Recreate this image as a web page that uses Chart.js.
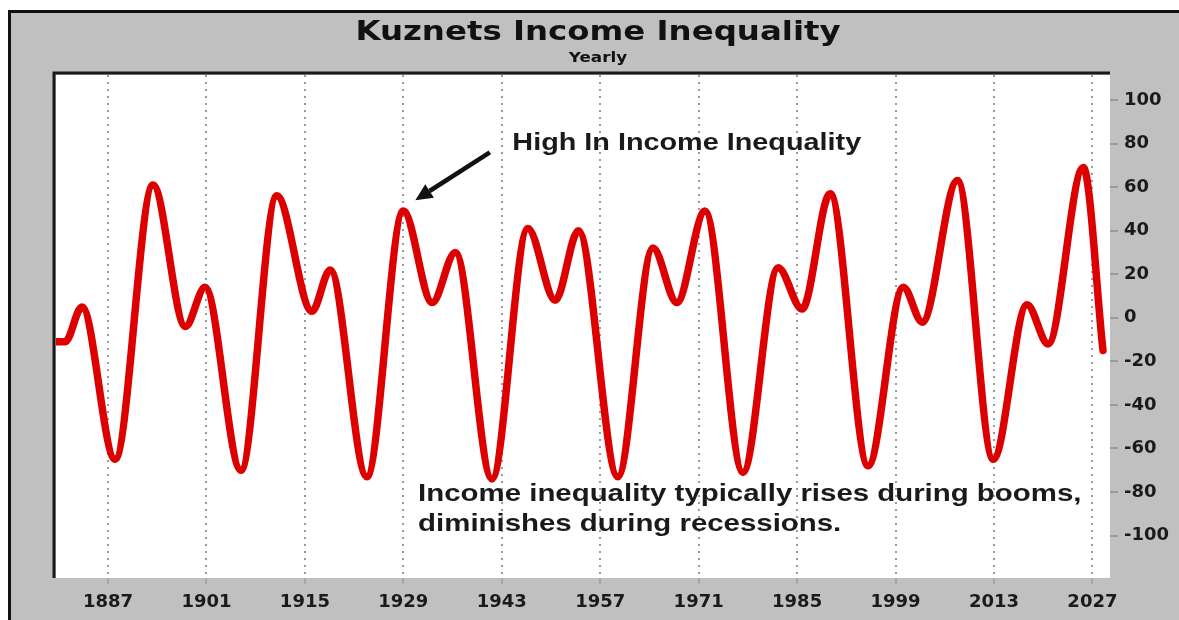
<!DOCTYPE html>
<html>
<head>
<meta charset="utf-8">
<script src="https://cdn.jsdelivr.net/npm/chart.js@4.4.1/dist/chart.umd.min.js"></script>
<style>
html,body{margin:0;padding:0;background:#fff;}
#wrap{width:1179px;height:620px;position:relative;}
</style>
</head>
<body>
<div id="wrap"><canvas id="c" width="1179" height="620"></canvas></div>
<script>
// ---- data ----
const years  = [1879.6, 1880.9, 1883.3, 1888.0, 1893.4, 1898.0, 1900.8, 1905.9, 1911.0, 1916.0,
                1918.6, 1923.8, 1929.0, 1933.1, 1936.4, 1941.6, 1946.7, 1950.6, 1953.9, 1959.5,
                1964.5, 1967.9, 1971.9, 1977.3, 1982.3, 1985.7, 1989.7, 1995.1, 2000.1, 2002.8,
                2007.8, 2012.9, 2017.7, 2020.7, 2025.7, 2028.5];
const values = [-11, -11, 5, -65, 61, -4, 14, -70, 56, 3,
                22, -73, 49, 7, 30, -74, 41, 8, 40, -73,
                32, 7, 49, -71, 23, 4, 57, -68, 14, -2,
                63, -65, 6, -12, 69, -15];
const xTickYears  = [1887, 1901, 1915, 1929, 1943, 1957, 1971, 1985, 1999, 2013, 2027];
const yTickValues = [-100, -80, -60, -40, -20, 0, 20, 40, 60, 80, 100];
const titleText    = 'Kuznets Income Inequality';
const subtitleText = 'Yearly';
const noteHigh     = 'High In Income Inequality';
const noteLines    = ['Income inequality typically rises during booms,', 'diminishes during recessions.'];

const points = years.map((y, i) => ({x: y, y: values[i]}));
const STRETCH = 1.2;

function stretchedText(ctx, text, x, y, font, align) {
  ctx.save();
  ctx.font = font;
  ctx.textBaseline = 'middle';
  ctx.textAlign = 'left';
  const w = ctx.measureText(text).width * STRETCH;
  let x0 = x;
  if (align === 'center') x0 = x - w / 2;
  ctx.translate(x0, y);
  ctx.scale(STRETCH, 1);
  ctx.fillText(text, 0, 0);
  ctx.restore();
}

const framePlugin = {
  id: 'frame',
  beforeDraw(chart) {
    const {ctx, chartArea: a, width, height} = chart;
    ctx.save();
    ctx.fillStyle = '#ffffff';
    ctx.fillRect(0, 0, width, height);
    ctx.fillStyle = '#c0c0c0';
    ctx.fillRect(9, 11, width - 9, height - 11);
    ctx.strokeStyle = '#111111';
    ctx.lineWidth = 3;
    ctx.beginPath();
    ctx.moveTo(9.5, height);
    ctx.lineTo(9.5, 11.5);
    ctx.lineTo(width, 11.5);
    ctx.stroke();
    ctx.fillStyle = '#ffffff';
    ctx.fillRect(a.left, a.top, a.right - a.left, a.bottom - a.top);
    ctx.restore();
  },
  afterDraw(chart) {
    const {ctx, chartArea: a, scales} = chart;
    const xs = scales.x, ys = scales.y;
    ctx.save();
    // plot border (top and left)
    ctx.strokeStyle = '#1a1a1a';
    ctx.lineWidth = 3;
    ctx.beginPath();
    ctx.moveTo(a.left - 2, a.bottom);
    ctx.lineTo(a.left - 2, a.top - 2);
    ctx.lineTo(a.right, a.top - 2);
    ctx.stroke();

    // titles
    ctx.fillStyle = '#111111';
    const cx = 598;
    stretchedText(ctx, titleText, cx, 33, 'bold 27px "DejaVu Sans"', 'center');
    stretchedText(ctx, subtitleText, cx, 58, 'bold 14px "DejaVu Sans"', 'center');

    // annotation: high in income inequality
    ctx.fillStyle = '#1a1a1a';
    stretchedText(ctx, noteHigh, xs.getPixelForValue(1944.5), ys.getPixelForValue(80),
      'bold 24px "Liberation Sans"', 'left');

    // arrow
    const x1 = xs.getPixelForValue(1941.3), y1 = ys.getPixelForValue(76);
    const x2 = xs.getPixelForValue(1930.7), y2 = ys.getPixelForValue(54);
    const ang = Math.atan2(y2 - y1, x2 - x1);
    const head = 17, hw = 8;
    const bx = x2 - head * Math.cos(ang), by = y2 - head * Math.sin(ang);
    ctx.strokeStyle = '#111111';
    ctx.lineWidth = 4.5;
    ctx.lineCap = 'butt';
    ctx.beginPath();
    ctx.moveTo(x1, y1);
    ctx.lineTo(bx, by);
    ctx.stroke();
    ctx.fillStyle = '#111111';
    ctx.beginPath();
    ctx.moveTo(x2, y2);
    ctx.lineTo(bx + hw * Math.sin(ang), by - hw * Math.cos(ang));
    ctx.lineTo(bx - hw * Math.sin(ang), by + hw * Math.cos(ang));
    ctx.closePath();
    ctx.fill();

    // bottom note
    ctx.fillStyle = '#1a1a1a';
    const lx = xs.getPixelForValue(1931.1);
    stretchedText(ctx, noteLines[0], lx, ys.getPixelForValue(-81), 'bold 24.5px "Liberation Sans"', 'left');
    stretchedText(ctx, noteLines[1], lx, ys.getPixelForValue(-95), 'bold 24.5px "Liberation Sans"', 'left');
    ctx.restore();
  }
};

new Chart(document.getElementById('c'), {
  type: 'line',
  data: {
    datasets: [{
      data: points,
      borderColor: '#dd0000',
      borderWidth: 7.5,
      borderCapStyle: 'round',
      borderJoinStyle: 'round',
      pointRadius: 0,
      fill: false,
      cubicInterpolationMode: 'monotone'
    }]
  },
  options: {
    responsive: false,
    animation: false,
    devicePixelRatio: 1,
    layout: {padding: {left: 56, top: 75, right: 0, bottom: 0}},
    plugins: {legend: {display: false}, tooltip: {enabled: false}, title: {display: false}},
    scales: {
      x: {
        type: 'linear',
        min: 1879.6,
        max: 2029.5,
        afterBuildTicks: (s) => { s.ticks = xTickYears.map(v => ({value: v})); },
        afterFit: (s) => { s.height = 42; },
        ticks: {
          color: '#1a1a1a',
          font: {family: '"DejaVu Sans"', weight: 'bold', size: 18},
          padding: 8,
          maxRotation: 0,
          autoSkip: false,
          callback: (v) => String(v)
        },
        grid: {color: '#9a9a9a', lineWidth: 2, tickLength: 6, tickColor: '#a8a8a8', drawTicks: true},
        border: {display: false, dash: [2, 5]}
      },
      y: {
        type: 'linear',
        position: 'right',
        min: -119.5,
        max: 111.5,
        afterBuildTicks: (s) => { s.ticks = yTickValues.map(v => ({value: v})); },
        afterFit: (s) => { s.width = 69; },
        ticks: {
          color: '#1a1a1a',
          font: {family: '"DejaVu Sans"', weight: 'bold', size: 18},
          padding: 6,
          autoSkip: false,
          callback: (v) => String(v)
        },
        grid: {drawOnChartArea: false, color: '#9a9a9a', tickLength: 8, lineWidth: 2},
        border: {display: false}
      }
    }
  },
  plugins: [framePlugin]
});
</script>
</body>
</html>
